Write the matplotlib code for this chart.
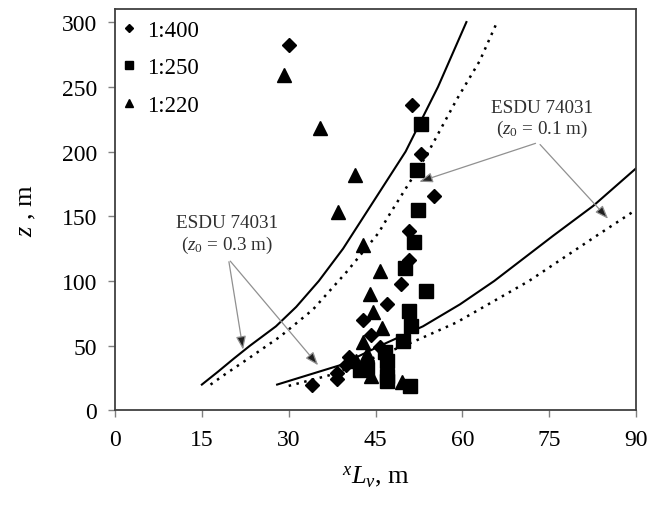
import matplotlib
matplotlib.use("Agg")
import matplotlib.pyplot as plt

plt.rcParams['font.family'] = ['Liberation Serif', 'DejaVu Serif']
plt.rcParams['mathtext.fontset'] = 'custom'
plt.rcParams['mathtext.rm'] = 'Liberation Serif'
plt.rcParams['mathtext.it'] = 'Liberation Serif:italic'

# ---- data ----
d400_x = [30.0, 51.3, 52.8, 55.1, 50.8, 50.7, 49.4, 46.9, 42.9, 44.2, 45.8, 40.5, 39.9, 38.3, 38.4, 34.1]
d400_z = [282, 236, 198, 166, 139, 116, 98, 82, 70, 58, 49, 41, 35, 29, 24, 20]

s250_x = [52.8, 52.2, 52.4, 51.7, 50.1, 53.7, 50.7, 51.1, 49.8, 46.7, 47.0, 43.6, 42.3, 46.9, 47.0, 50.9]
s250_z = [221, 186, 155, 130, 110, 92, 77, 65, 54, 45, 38, 32, 31, 27, 23, 19]

t220_x = [29.2, 35.4, 41.5, 38.6, 42.8, 45.8, 44.0, 44.6, 46.1, 42.9, 43.6, 41.6, 44.3, 49.5]
t220_z = [259, 218, 182, 153, 128, 108, 90, 76, 64, 53, 44, 38, 27, 22]

# ESDU 74031 curves
up03_x = [15, 17.8, 20.5, 23.3, 27.8, 31.3, 35.2, 39.4, 43.0, 46.6, 50.2, 55.8, 60.7]
up03_z = [20, 30, 40, 50, 65, 80, 100, 125, 150, 175, 200, 250, 300]
up01_x = [16.5, 18.7, 23.0, 28.5, 34.2, 40.0, 45.5, 47.5, 53.8, 59.0, 63.0, 66.0]
up01_z = [20, 27, 40, 57, 78, 107, 137, 152, 197, 240, 270, 300]
lo03_x = [28.0, 38.9, 45.8, 53.2, 59.6, 65.5, 75.7, 82.6, 90.0]
lo03_z = [20, 35, 50, 65, 82, 100, 135, 158, 187]
lo01_x = [30.0, 37.7, 44.3, 51.5, 59.0, 71.5, 83.2, 90.0]
lo01_z = [19, 28, 40, 53, 68, 100, 135, 155]

x_ticks = [0, 15, 30, 45, 60, 75, 90]
y_ticks = [0, 50, 100, 150, 200, 250, 300]

fig = plt.figure(figsize=(6.48, 5.06), dpi=100)
ax = fig.add_axes([0.1775, 0.1868, 0.804, 0.7932])

ax.plot(up03_x, up03_z, color='black', lw=1.5, zorder=2)
ax.plot(up01_x, up01_z, color='black', lw=1.8, ls=(0, (1, 2.2)), zorder=2)
ax.plot(lo03_x, lo03_z, color='black', lw=1.5, zorder=2)
ax.plot(lo01_x, lo01_z, color='black', lw=1.8, ls=(0, (1, 2.2)), zorder=2)

ax.plot(d400_x, d400_z, ls='none', marker='D', ms=7.5, color='black', label='1:400', zorder=3)
ax.plot(s250_x, s250_z, ls='none', marker='s', ms=9.5, color='black', label='1:250', zorder=3)
ax.plot(t220_x, t220_z, ls='none', marker='^', ms=10.5, color='black', label='1:220', zorder=3)

ax.set_xlim(0, 90)
ax.set_ylim(0, 310)
ax.set_xticks(x_ticks)
ax.set_yticks(y_ticks)
ax.tick_params(direction='out', length=5, width=1, color='#808080', labelsize=17, pad=8)
for s in ax.spines.values():
    s.set_color('#404040')
    s.set_linewidth(1.3)

ax.set_xlabel(r'$^{x}L_{v}$, m', fontsize=19, labelpad=10)
ax.set_ylabel(r'$z$ , m', fontsize=19, labelpad=17)

leg = ax.legend(loc='upper left', bbox_to_anchor=(-0.012, 1.008), frameon=False,
                fontsize=16.5, markerscale=0.6,
                handlelength=0.6, handletextpad=0.45, labelspacing=0.72,
                borderaxespad=0.2)

arrow_kw = dict(arrowstyle='-|>,head_length=0.8,head_width=0.3', ec='#909090', fc='#202020', lw=0.9)
ax.text(19.3, 136, 'ESDU 74031\n' + r'($z_0$ = 0.3 m)', ha='center', va='center',
        fontsize=13.8, color='#303030', linespacing=1.15)
for tx, tz in [(22.2, 44.9), (35.4, 33.3)]:
    ax.annotate('', xy=(tx, tz), xytext=(19.6, 117),
                arrowprops=dict(**arrow_kw))

ax.text(73.8, 225, 'ESDU 74031\n' + r'($z_0$ = 0.1 m)', ha='center', va='center',
        fontsize=13.8, color='#303030', linespacing=1.15)
for tx, tz in [(85.5, 146.5), (52.1, 176)]:
    ax.annotate('', xy=(tx, tz), xytext=(73.1, 207),
                arrowprops=dict(**arrow_kw))

fig.savefig('out.png', dpi=100)
